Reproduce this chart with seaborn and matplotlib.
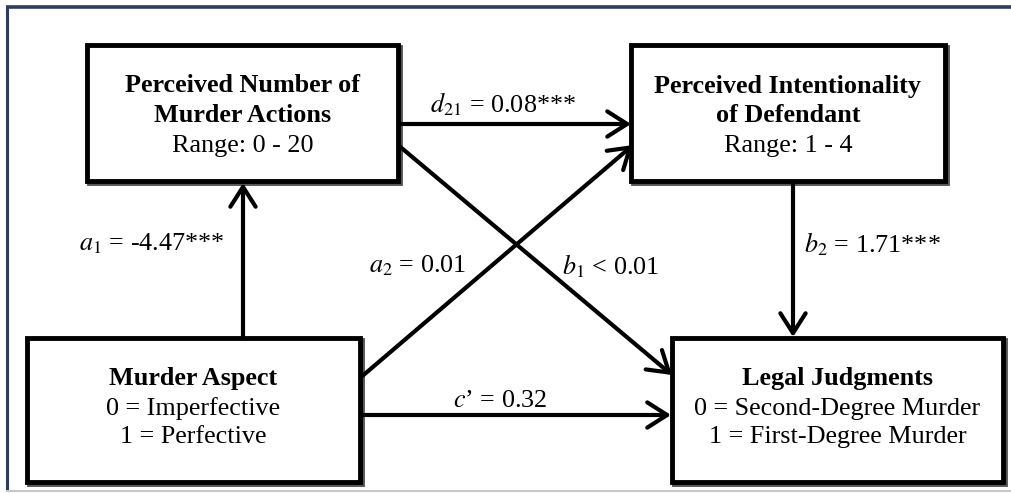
import matplotlib
matplotlib.use("Agg")
import matplotlib.pyplot as plt
import seaborn as sns
from matplotlib.patches import Rectangle

sns.set_theme(style="white")
plt.rcParams['font.family'] = ['Liberation Serif', 'DejaVu Serif']
plt.rcParams['mathtext.fontset'] = 'stix'

# ---- data ----
node_titles = ["Perceived Number of\nMurder Actions", "Perceived Intentionality\nof Defendant",
               "Murder Aspect", "Legal Judgments"]
node_details = [["Range: 0 - 20"], ["Range: 1 - 4"],
                ["0 = Imperfective", "1 = Perfective"],
                ["0 = Second-Degree Murder", "1 = First-Degree Murder"]]
path_names = [r"$a_1$", r"$d_{21}$", r"$a_2$", r"$b_1$", r"$b_2$", r"$c$"]
path_ops = ["=", "=", "=", "<", "=", "’ ="]
path_values = ["-4.47***", "0.08***", "0.01", "0.01", "1.71***", "0.32"]

# ---- layout (pixel coords) ----
W, H = 1012, 493
fig = plt.figure(figsize=(W / 100, H / 100), dpi=100)
ax = fig.add_axes([0, 0, 1, 1])
ax.set_xlim(0, W)
ax.set_ylim(H, 0)
ax.axis("off")

# outer frame
ax.plot([6, W], [6.5, 6.5], color="#2e3d5c", lw=2.6, solid_capstyle="butt")
ax.plot([7.5, 7.5], [6, 490], color="#2e3d5c", lw=2.2, solid_capstyle="butt")
ax.plot([7, W], [490.5, 490.5], color="#c8c8c8", lw=1.5)

boxes = [(87, 45, 398, 181), (631, 45, 945, 181), (27, 338, 360, 482), (672, 338, 1003, 482)]
title_y = [(86, 116), (86, 116), (379,), (379,)]
detail_y = [[146], [146], [409, 437], [409, 437]]
FS = 18.8

for i, (x0, y0, x1, y1) in enumerate(boxes):
    ax.add_patch(Rectangle((x0 + 2, y0 + 2), x1 - x0, y1 - y0, fill=False, lw=3.5,
                           edgecolor="#555555", zorder=1))
    ax.add_patch(Rectangle((x0, y0), x1 - x0, y1 - y0, facecolor="white", lw=3.5,
                           edgecolor="black", zorder=2))
    cx = (x0 + x1) / 2
    for line, yy in zip(node_titles[i].split("\n"), title_y[i]):
        ax.text(cx, yy, line, ha="center", va="center", fontsize=FS,
                fontweight="bold", color="black", zorder=3)
    for line, yy in zip(node_details[i], detail_y[i]):
        ax.text(cx, yy, line, ha="center", va="center", fontsize=FS,
                color="black", zorder=3)

arrows = [((243, 338), (243, 183)),
          ((398, 124), (631, 124)),
          ((360, 378), (633, 145)),
          ((398, 145), (672, 375)),
          ((793, 181), (793, 337)),
          ((360, 415), (671, 415))]
label_pos = [(152, 244), (503, 104), (418, 266), (611, 266), (872, 244), (500, 401)]

for (s, e) in arrows:
    ax.annotate("", xy=e, xytext=s,
                arrowprops=dict(arrowstyle="->,head_length=0.55,head_width=0.35",
                                lw=3, color="black", mutation_scale=26,
                                shrinkA=0, shrinkB=0), zorder=1)

for name, op, val, (x, y) in zip(path_names, path_ops, path_values, label_pos):
    ax.text(x, y, f"{name}{op if op.startswith('’') else ' ' + op} {val}",
            ha="center", va="center", fontsize=FS, color="black")

fig.savefig("out.png", dpi=100)
